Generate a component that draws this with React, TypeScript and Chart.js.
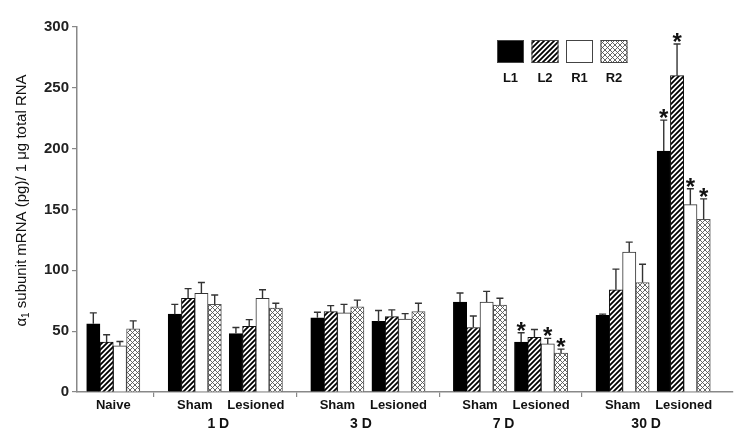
import React, { useEffect, useRef } from 'react';
import { Chart, registerables } from 'chart.js';

Chart.register(...registerables);

// ---- data ----
const groupLabels = ['Naive', 'Sham', 'Lesioned', 'Sham', 'Lesioned', 'Sham', 'Lesioned', 'Sham', 'Lesioned'];
const groupPositions = [0, 4, 7, 11, 14, 18, 21, 25, 28];
const dayLabels = ['1 D', '3 D', '7 D', '30 D'];
const dayGroupPairs = [[1, 2], [3, 4], [5, 6], [7, 8]];
const seriesNames = ['L1', 'L2', 'R1', 'R2'];

const l1Values = [56, 64, 48, 61, 58, 74, 41, 63, 198];
const l1Errors = [9, 8, 5, 4.6, 9, 7.4, 7.7, 1, 25.5];
const l1Sig = [false, false, false, false, false, false, true, false, true];
const l2Values = [41, 77, 54, 66, 62, 53, 45, 84, 260];
const l2Errors = [6, 8, 5.5, 5, 5.5, 9.5, 6.4, 17, 26];
const l2Sig = [false, false, false, false, false, false, false, false, true];
const r1Values = [38, 81, 77, 65, 60, 74, 39.5, 115, 154];
const r1Errors = [3.5, 9, 7, 7, 4.4, 8.7, 4.6, 8.2, 13];
const r1Sig = [false, false, false, false, false, false, true, false, true];
const r2Values = [52, 72, 69, 70, 66, 71.5, 32, 90, 142];
const r2Errors = [6.5, 7.7, 4, 5.5, 7, 5.5, 3.2, 15, 16.7];
const r2Sig = [false, false, false, false, false, false, true, false, true];

const yMin = 0;
const yMax = 300;
const yStep = 50;

const FONT = 'Arial, "Liberation Sans", Helvetica, sans-serif';

function makeHatch(): CanvasPattern | string {
  const s = 5;
  const c = document.createElement('canvas');
  c.width = s;
  c.height = s;
  const g = c.getContext('2d');
  if (!g) return '#fff';
  g.fillStyle = '#fff';
  g.fillRect(0, 0, s, s);
  g.strokeStyle = '#000';
  g.lineWidth = 1.8;
  g.beginPath();
  g.moveTo(0, s);
  g.lineTo(s, 0);
  g.moveTo(-1, 1);
  g.lineTo(1, -1);
  g.moveTo(s - 1, s + 1);
  g.lineTo(s + 1, s - 1);
  g.stroke();
  return g.createPattern(c, 'repeat') || '#fff';
}

function makeCross(): CanvasPattern | string {
  const s = 5;
  const c = document.createElement('canvas');
  c.width = s;
  c.height = s;
  const g = c.getContext('2d');
  if (!g) return '#fff';
  g.fillStyle = '#fff';
  g.fillRect(0, 0, s, s);
  g.strokeStyle = '#555';
  g.lineWidth = 0.9;
  g.beginPath();
  g.moveTo(0, s);
  g.lineTo(s, 0);
  g.moveTo(-1, 1);
  g.lineTo(1, -1);
  g.moveTo(s - 1, s + 1);
  g.lineTo(s + 1, s - 1);
  g.moveTo(0, 0);
  g.lineTo(s, s);
  g.moveTo(-1, s - 1);
  g.lineTo(1, s + 1);
  g.moveTo(s - 1, -1);
  g.lineTo(s + 1, 1);
  g.stroke();
  return g.createPattern(c, 'repeat') || '#fff';
}

const errorBarPlugin = {
  id: 'errorBars',
  afterDatasetsDraw(chart: any) {
    const ctx = chart.ctx;
    const yScale = chart.scales.y;
    ctx.save();
    chart.data.datasets.forEach((ds: any, di: number) => {
      const meta = chart.getDatasetMeta(di);
      meta.data.forEach((bar: any, i: number) => {
        const v = ds.data[i].y;
        const e = ds.errors[i];
        const yTop = yScale.getPixelForValue(v + e);
        const yBar = yScale.getPixelForValue(v);
        const x = bar.x;
        ctx.strokeStyle = '#333';
        ctx.lineWidth = 1.4;
        ctx.beginPath();
        ctx.moveTo(x, yBar);
        ctx.lineTo(x, yTop);
        ctx.moveTo(x - 3.5, yTop);
        ctx.lineTo(x + 3.5, yTop);
        ctx.stroke();
        if (ds.sig[i]) {
          ctx.fillStyle = '#111';
          ctx.font = `bold 24px ${FONT}`;
          ctx.textAlign = 'center';
          ctx.textBaseline = 'alphabetic';
          ctx.fillText('*', x, yTop + 6);
        }
      });
    });
    ctx.restore();
  },
};

const labelsPlugin = {
  id: 'customLabels',
  afterDraw(chart: any) {
    const ctx = chart.ctx;
    const xScale = chart.scales.x;
    const area = chart.chartArea;
    ctx.save();
    // category labels
    ctx.fillStyle = '#111';
    ctx.font = `bold 13px ${FONT}`;
    ctx.textAlign = 'center';
    ctx.textBaseline = 'middle';
    groupLabels.forEach((lab, i) => {
      ctx.fillText(lab, xScale.getPixelForValue(groupPositions[i]), area.bottom + 13);
    });
    ctx.font = `bold 14px ${FONT}`;
    dayLabels.forEach((lab, i) => {
      const [a, b] = dayGroupPairs[i];
      const mid = (xScale.getPixelForValue(groupPositions[a]) + xScale.getPixelForValue(groupPositions[b])) / 2;
      ctx.fillText(lab, mid - 7, area.bottom + 32);
    });

    // y axis title with subscript
    ctx.translate(22, (area.top + area.bottom) / 2 - 9);
    ctx.rotate(-Math.PI / 2);
    const mainFont = `15px ${FONT}`;
    const subFont = `10px ${FONT}`;
    const rest = ' subunit mRNA (pg)/ 1 \u03bcg total RNA';
    ctx.font = mainFont;
    const wA = ctx.measureText('\u03b1').width;
    const wR = ctx.measureText(rest).width;
    ctx.font = subFont;
    const wS = ctx.measureText('1').width;
    const total = wA + wS + wR;
    let x0 = -total / 2;
    ctx.fillStyle = '#111';
    ctx.textAlign = 'left';
    ctx.textBaseline = 'middle';
    ctx.font = mainFont;
    ctx.fillText('\u03b1', x0, 0);
    x0 += wA;
    ctx.font = subFont;
    ctx.fillText('1', x0, 4);
    x0 += wS;
    ctx.font = mainFont;
    ctx.fillText(rest, x0, 0);
    ctx.restore();

    // legend
    ctx.save();
    const boxW = 27;
    const boxH = 23;
    const step = 34.5;
    const left = area.right - 236;
    const top = 40;
    chart.data.datasets.forEach((ds: any, i: number) => {
      const bx = left + i * step;
      ctx.fillStyle = ds.backgroundColor;
      ctx.fillRect(bx, top, boxW, boxH);
      ctx.strokeStyle = '#444';
      ctx.lineWidth = 1;
      ctx.strokeRect(bx + 0.5, top + 0.5, boxW - 1, boxH - 1);
      ctx.fillStyle = '#111';
      ctx.font = `bold 13px ${FONT}`;
      ctx.textAlign = 'center';
      ctx.textBaseline = 'middle';
      ctx.fillText(ds.label, bx + boxW / 2, top + boxH + 15);
    });
    ctx.restore();
  },
};

export default function App() {
  const ref = useRef<HTMLCanvasElement | null>(null);

  useEffect(() => {
    if (!ref.current) return;
    const hatch = makeHatch();
    const cross = makeCross();
    const toPts = (vals: number[]) => vals.map((v, i) => ({ x: groupPositions[i], y: v }));
    const dividers = groupPositions
      .slice(0, -1)
      .map((p, i) => (p + groupPositions[i + 1]) / 2)
      .filter((_, i) => i % 2 === 0);

    const chart = new Chart(ref.current, {
      type: 'bar',
      data: {
        datasets: [
          { label: seriesNames[0], data: toPts(l1Values), errors: l1Errors, sig: l1Sig, backgroundColor: '#000', borderColor: '#000', borderWidth: 1 } as any,
          { label: seriesNames[1], data: toPts(l2Values), errors: l2Errors, sig: l2Sig, backgroundColor: hatch, borderColor: '#111', borderWidth: 1 } as any,
          { label: seriesNames[2], data: toPts(r1Values), errors: r1Errors, sig: r1Sig, backgroundColor: '#fff', borderColor: '#333', borderWidth: 1 } as any,
          { label: seriesNames[3], data: toPts(r2Values), errors: r2Errors, sig: r2Sig, backgroundColor: cross, borderColor: '#555', borderWidth: 1 } as any,
        ],
      },
      options: {
        animation: false,
        responsive: true,
        maintainAspectRatio: false,
        barThickness: 13.3,
        layout: { padding: { left: 0, right: 17, top: 27, bottom: 0 } },
        plugins: { legend: { display: false }, tooltip: { enabled: false }, title: { display: false } },
        scales: {
          x: {
            type: 'linear',
            min: -1.78,
            max: 30.42,
            offset: false,
            grid: { display: true, drawOnChartArea: false, drawTicks: true, tickLength: 5, color: '#888', lineWidth: 1.2, offset: false },
            border: { display: true, color: '#888', width: 1.5 },
            ticks: { display: true, callback: () => '' },
            afterBuildTicks: (axis: any) => {
              axis.ticks = dividers.map((v) => ({ value: v }));
            },
            afterFit: (axis: any) => {
              axis.height = 52;
            },
          } as any,
          y: {
            type: 'linear',
            min: yMin,
            max: yMax,
            ticks: {
              stepSize: yStep,
              color: '#222',
              font: { family: FONT, size: 15, weight: 'bold' },
              padding: 3,
            },
            grid: { display: true, drawOnChartArea: false, drawTicks: true, tickLength: 5, color: '#888', lineWidth: 1.2 },
            border: { display: true, color: '#888', width: 1.5 },
            afterFit: (axis: any) => {
              axis.width = 77;
            },
          } as any,
        },
      } as any,
      plugins: [errorBarPlugin, labelsPlugin],
    });
    return () => chart.destroy();
  }, []);

  return (
    <div style={{ position: 'fixed', left: 0, top: 0, width: 750, height: 444, background: '#fff' }}>
      <canvas ref={ref} />
    </div>
  );
}
